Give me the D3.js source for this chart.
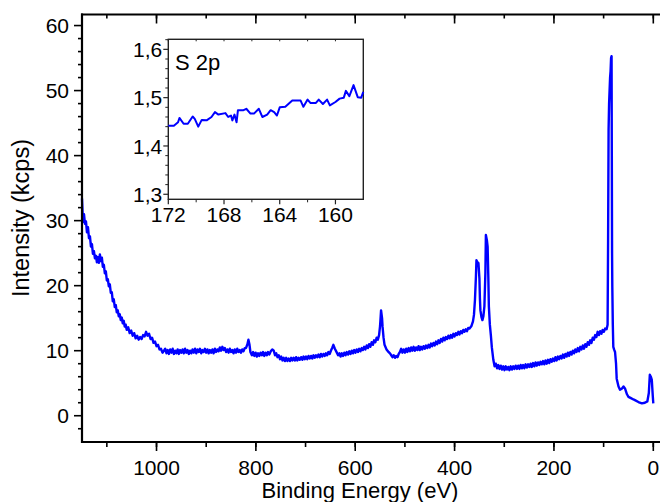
<!DOCTYPE html>
<html>
<head>
<meta charset="utf-8">
<script src="https://cdn.jsdelivr.net/npm/d3@7"></script>
<style>
  html, body { margin: 0; padding: 0; background: #fff; }
  svg { display: block; }
  text { font-family: Arial, "Liberation Sans", sans-serif; fill: #000; }
</style>
</head>
<body>
<svg id="chart" width="660" height="502"></svg>
<script>
// ---- Main XPS survey spectrum ----
// Regularly sampled stretches: first energy, energy step, intensities (kcps)
const survey1150 = [33.4,29.8,31.0,29.5,29.9,28.2,29.0,27.3,27.6,26.0,26.4,24.9,25.3,24.2,24.6,23.6,24.4,23.5,24.8,23.8,24.3,22.9,23.2,21.9,22.2,20.8,21.0,19.9,20.2,18.9,19.0,17.6,17.9,16.7,17.0,15.9,16.2,15.3,15.6,14.7,15.1,14.2,14.6,13.7,14.0,13.2];
const survey1057 = [13.6,12.7,13.1,12.3,12.7,11.9,12.3,11.7,12.1,11.8,12.4,12.2,12.9,12.3,12.6,11.8,12.0,11.2,11.4,10.7,10.9,10.2,10.3,9.7,10.0];
const survey982 = [10.3,9.6,10.1,9.5,10.2,9.7,10.3,9.5,10.0,9.6,10.2,9.5,10.1,9.7,10.2,9.6,10.3,9.7,10.1,9.5,10.0,9.6,10.2,9.7,10.3,9.6,10.2,9.8,10.3,9.6,10.1,9.8,10.3,9.7,10.2,9.6,10.1,9.7,10.2,9.6,10.3,9.8,10.2,9.9,10.5,10.0,10.6,10.1,10.4,9.8,10.2,9.7,10.3,9.8,10.1,9.6,10.2,9.7,10.3,9.8,10.1,9.7,10.2,9.9,10.4];
const survey808 = [9.3,9.8,9.2,9.7,9.1,9.6,9.2,9.7,9.3,9.8,9.2,9.7,9.3,9.8,9.4];
const survey761 = [9.3,9.6,9.0,9.3,8.7,9.1,8.5,8.9,8.4,8.9,8.4,8.8,8.4,8.9,8.5,8.9,8.5,9.0,8.5,8.9,8.6,9.0,8.6,9.1,8.7,9.1,8.7,9.2,8.8,9.2,8.8,9.3,8.9,9.3,9.0,9.4,9.0,9.5,9.1,9.5,9.2,9.6,9.3,9.8,9.5,10.0];
const survey637 = [9.7,9.3,9.6,9.1,9.6,9.2,9.7,9.3,9.8,9.4,9.9,9.5,10.0,9.6,10.1,9.7,10.2,9.8,10.3,9.9,10.4,10.1,10.6,10.2,10.8,10.4,11.0,10.6,11.3,10.9,11.6,11.3,12.0,11.7];
const survey530 = [9.6,9.3,9.0,9.3,8.9,9.2,9.0,9.5,9.8,10.3,9.7,10.2,9.7,10.3,9.8,10.4,9.9,10.5,10.0,10.6,10.0,10.5,10.1,10.7,10.1,10.6,10.2,10.7,10.3,10.8,10.4,10.9,10.5,11.1,10.7,11.2,10.8,11.4,11.0,11.6,11.2,11.8,11.4,12.0,11.6,12.1,11.8,12.3,11.9,12.4,12.0,12.6,12.2,12.7,12.4,12.9,12.5,13.0,12.7,13.2,12.9,13.3,13.0,13.5];
const survey319 = [7.6,8.0,7.3,7.8,7.2,7.7,7.1,7.6,7.0,7.6,7.1,7.5,7.0,7.6,7.1,7.6,7.2,7.7,7.2,7.7,7.2,7.8,7.3,7.8,7.3,7.9,7.4,7.9,7.5,8.0,7.5,8.1,7.6,8.2,7.7,8.2,7.8,8.3,7.9,8.4,7.9,8.5,8.0,8.6,8.1,8.7,8.3,8.8,8.4,9.0,8.5,9.1,8.7,9.2,8.8,9.4,8.9,9.5,9.1,9.7,9.2,9.8,9.4,10.0,9.6,10.2,9.8,10.4,9.9,10.6,10.2,10.8,10.3,11.0,10.6,11.3,10.9,11.6,11.2,12.0,11.7,12.4,12.1,12.9,12.4,13.0,12.6,13.2,12.9];

// Peaks, explicit energies (eV) and intensities (kcps)
const peak815E = [820,817,815,813,811];
const peak815I = [10.4,11.0,11.7,11.0,9.8];
const peak767E = [770,767,764];
const peak767I = [9.9,10.2,10.0];
const peak644E = [646,644,641];
const peak644I = [10.5,10.9,10.3];
const peak548E = [552,550,548,546,545,543,541,537,533];
const peak548I = [12.4,13.8,16.2,15.0,13.7,12.0,10.9,10.2,9.8];
const au4dE = [370,366,363,361,359,357,356,354,352,350,349,348,346,344,342,340,338,337,335,333.5,332,331,329,327,325,322];
const au4dI = [13.4,13.8,14.5,15.5,17.8,21.5,23.9,23.6,23.5,21.1,18.0,16.2,15.2,14.7,15.3,16.8,22.0,27.8,27.0,26.0,21.0,16.8,14.0,12.4,10.5,8.6];
const au4fE = [97,94,92,91,90,89,88,87,86,85,84,83.5,83,82.5,81.5,80.5,79,77,75,73.7,70,67,63,60,57,53,50,45,40,37,30,23,17,12,9,7,5,3,1,0];
const au4fI = [13.4,13.3,14.0,27.0,44.0,48.0,50.0,52.0,53.0,55.0,55.3,40.0,25.0,19.8,14.0,10.6,10.2,9.8,8.0,5.7,4.5,4.0,4.2,4.5,4.2,3.3,2.9,2.7,2.5,2.4,2.1,1.9,2.0,2.2,3.5,6.3,6.0,5.5,3.0,1.9];

// ---- Inset: S 2p region ----
const insetEnergy = [172,171.6,171.3,171.2,170.9,170.6,170.25,170.1,169.85,169.6,169.25,168.9,168.65,168.4,167.9,167.7,167.5,167.4,167.25,167.1,167.0,166.6,166.4,166.1,165.85,165.5,165.25,164.9,164.65,164.4,164.2,164.0,163.6,163.1,162.5,162.3,162.0,161.8,161.4,161.2,160.9,160.6,160.4,160.0,159.7,159.4,159.25,159.0,158.7,158.4,158.15,158.0];
const insetIntensity = [1.442,1.442,1.449,1.458,1.446,1.446,1.461,1.456,1.440,1.454,1.453,1.460,1.470,1.465,1.468,1.460,1.463,1.453,1.465,1.449,1.474,1.474,1.477,1.467,1.467,1.477,1.460,1.465,1.474,1.470,1.463,1.480,1.481,1.494,1.494,1.481,1.496,1.489,1.489,1.496,1.487,1.496,1.484,1.491,1.498,1.500,1.514,1.503,1.526,1.501,1.500,1.512];

// ---- Tick labels ----
const xTicks = [1000, 800, 600, 400, 200, 0];
const yTicks = [0, 10, 20, 30, 40, 50, 60];
const insetXTicks = [172, 168, 164, 160];
const insetYTicks = [1.3, 1.4, 1.5, 1.6];

// assemble the survey table, high to low binding energy
function regular(start, step, vals) { return vals.map((v, i) => ({ e: start + i * step, v })); }
function explicit(es, vs) { return es.map((e, i) => ({ e, v: vs[i] })); }
const survey = [].concat(
  regular(1150, -2, survey1150),
  regular(1057, -3, survey1057),
  regular(982.5, -2.5, survey982),
  explicit(peak815E, peak815I),
  regular(808, -2.5, survey808),
  explicit(peak767E, peak767I),
  regular(761.5, -2.5, survey761),
  explicit(peak644E, peak644I),
  regular(637, -2.5, survey637),
  explicit(peak548E, peak548I),
  regular(530, -2.5, survey530),
  explicit(au4dE, au4dI),
  regular(319.5, -2.5, survey319),
  explicit(au4fE, au4fI)
);
const inset = explicit(insetEnergy, insetIntensity);

const svg = d3.select("#chart");

// main plot geometry
const L = 82, R = 661, T = 14.5, B = 442;
const x = d3.scaleLinear().domain([1150, -15.5]).range([L, R]);
const y = d3.scaleLinear().domain([-4.04, 61.7]).range([B, T]);
const black = "#000";

// spectrum
svg.append("path").datum(survey)
  .attr("d", d3.line().x(d => x(d.e)).y(d => y(d.v)))
  .attr("fill", "none").attr("stroke", "#0000ff")
  .attr("stroke-width", 2.4).attr("stroke-linejoin", "round");

// bottom axis
const xMinor = d3.range(1100, -1, -100);
const gB = svg.append("g");
gB.selectAll("line.mn").data(xMinor).join("line")
  .attr("x1", d => x(d)).attr("x2", d => x(d)).attr("y1", B).attr("y2", B + 5)
  .attr("stroke", black).attr("stroke-width", 1.6);
gB.selectAll("line.mj").data(xTicks).join("line")
  .attr("x1", d => x(d)).attr("x2", d => x(d)).attr("y1", B).attr("y2", B + 9)
  .attr("stroke", black).attr("stroke-width", 1.6);
gB.selectAll("text").data(xTicks).join("text")
  .attr("x", d => x(d)).attr("y", 475).attr("text-anchor", "middle")
  .attr("font-size", 21).text(d => d);
svg.append("line").attr("x1", L - 1).attr("x2", 660).attr("y1", B).attr("y2", B)
  .attr("stroke", black).attr("stroke-width", 2.2);

// top line with inward ticks
const gT = svg.append("g");
gT.selectAll("line.mn").data(xMinor).join("line")
  .attr("x1", d => x(d)).attr("x2", d => x(d)).attr("y1", T).attr("y2", T + 4)
  .attr("stroke", black).attr("stroke-width", 1.6);
gT.selectAll("line.mj").data(xTicks).join("line")
  .attr("x1", d => x(d)).attr("x2", d => x(d)).attr("y1", T).attr("y2", T + 9)
  .attr("stroke", black).attr("stroke-width", 1.6);
svg.append("line").attr("x1", L - 1).attr("x2", 660).attr("y1", T).attr("y2", T)
  .attr("stroke", black).attr("stroke-width", 2.2);

// left axis
const yMinor = d3.range(-2, 62, 2).filter(v => v % 10 !== 0);
const gL = svg.append("g");
gL.selectAll("line.mn").data(yMinor).join("line")
  .attr("x1", L - 4).attr("x2", L).attr("y1", d => y(d)).attr("y2", d => y(d))
  .attr("stroke", black).attr("stroke-width", 1.6);
gL.selectAll("line.mj").data(yTicks).join("line")
  .attr("x1", L - 8).attr("x2", L).attr("y1", d => y(d)).attr("y2", d => y(d))
  .attr("stroke", black).attr("stroke-width", 1.6);
gL.selectAll("text").data(yTicks).join("text")
  .attr("x", 69).attr("y", d => y(d)).attr("dy", "0.36em").attr("text-anchor", "end")
  .attr("font-size", 21).text(d => d);
svg.append("line").attr("x1", L).attr("x2", L).attr("y1", T - 1).attr("y2", B + 1)
  .attr("stroke", black).attr("stroke-width", 2.2);

// axis titles
svg.append("text").attr("x", 360).attr("y", 498).attr("text-anchor", "middle")
  .attr("font-size", 22).text("Binding Energy (eV)");
svg.append("text").attr("transform", "translate(29,218) rotate(-90)")
  .attr("text-anchor", "middle").attr("font-size", 23.5).text("Intensity (kcps)");

// ---- Inset ----
const iL = 168.3, iR = 363.3, iT = 39.3, iB = 199.3;
const ix = d3.scaleLinear().domain([172, 158]).range([iL, iR]);
const iy = d3.scaleLinear().domain([1.2896, 1.6208]).range([iB, iT]);
const gI = svg.append("g");
gI.append("rect").attr("x", iL).attr("y", iT).attr("width", iR - iL).attr("height", iB - iT)
  .attr("fill", "#fff").attr("stroke", "#222").attr("stroke-width", 1.4);

gI.append("path").datum(inset)
  .attr("d", d3.line().x(d => ix(d.e)).y(d => iy(d.v)))
  .attr("fill", "none").attr("stroke", "#0000ff").attr("stroke-width", 2)
  .attr("stroke-linejoin", "round");

const iyMinor = d3.range(1.3, 1.6201, 0.02).filter(v => Math.abs(v * 10 - Math.round(v * 10)) > 1e-6);
gI.selectAll("line.ymn").data(iyMinor).join("line")
  .attr("x1", iL - 3).attr("x2", iL).attr("y1", d => iy(d)).attr("y2", d => iy(d))
  .attr("stroke", "#222").attr("stroke-width", 1);
gI.selectAll("line.ymj").data(insetYTicks).join("line")
  .attr("x1", iL - 5).attr("x2", iL).attr("y1", d => iy(d)).attr("y2", d => iy(d))
  .attr("stroke", "#222").attr("stroke-width", 1.2);
gI.selectAll("text.yl").data(insetYTicks).join("text")
  .attr("x", iL - 6).attr("y", d => iy(d)).attr("dy", "0.36em").attr("text-anchor", "end")
  .attr("font-size", 21).text(d => d3.format(".1f")(d).replace(".", ","));

const ixMinor = [170, 166, 162];
gI.selectAll("line.xmn").data(ixMinor).join("line")
  .attr("x1", d => ix(d)).attr("x2", d => ix(d)).attr("y1", iB).attr("y2", iB + 3)
  .attr("stroke", "#222").attr("stroke-width", 1);
gI.selectAll("line.xmj").data(insetXTicks).join("line")
  .attr("x1", d => ix(d)).attr("x2", d => ix(d)).attr("y1", iB).attr("y2", iB + 5)
  .attr("stroke", "#222").attr("stroke-width", 1.2);
gI.selectAll("line.tmn").data(ixMinor.concat(insetXTicks)).join("line")
  .attr("x1", d => ix(d)).attr("x2", d => ix(d)).attr("y1", iT).attr("y2", iT + 2)
  .attr("stroke", "#222").attr("stroke-width", 1);
gI.selectAll("text.xl").data(insetXTicks).join("text")
  .attr("x", d => ix(d)).attr("y", 221.5).attr("text-anchor", "middle")
  .attr("font-size", 21).text(d => d);

gI.append("text").attr("x", 175).attr("y", 70).attr("font-size", 22).text("S 2p");
</script>
</body>
</html>
